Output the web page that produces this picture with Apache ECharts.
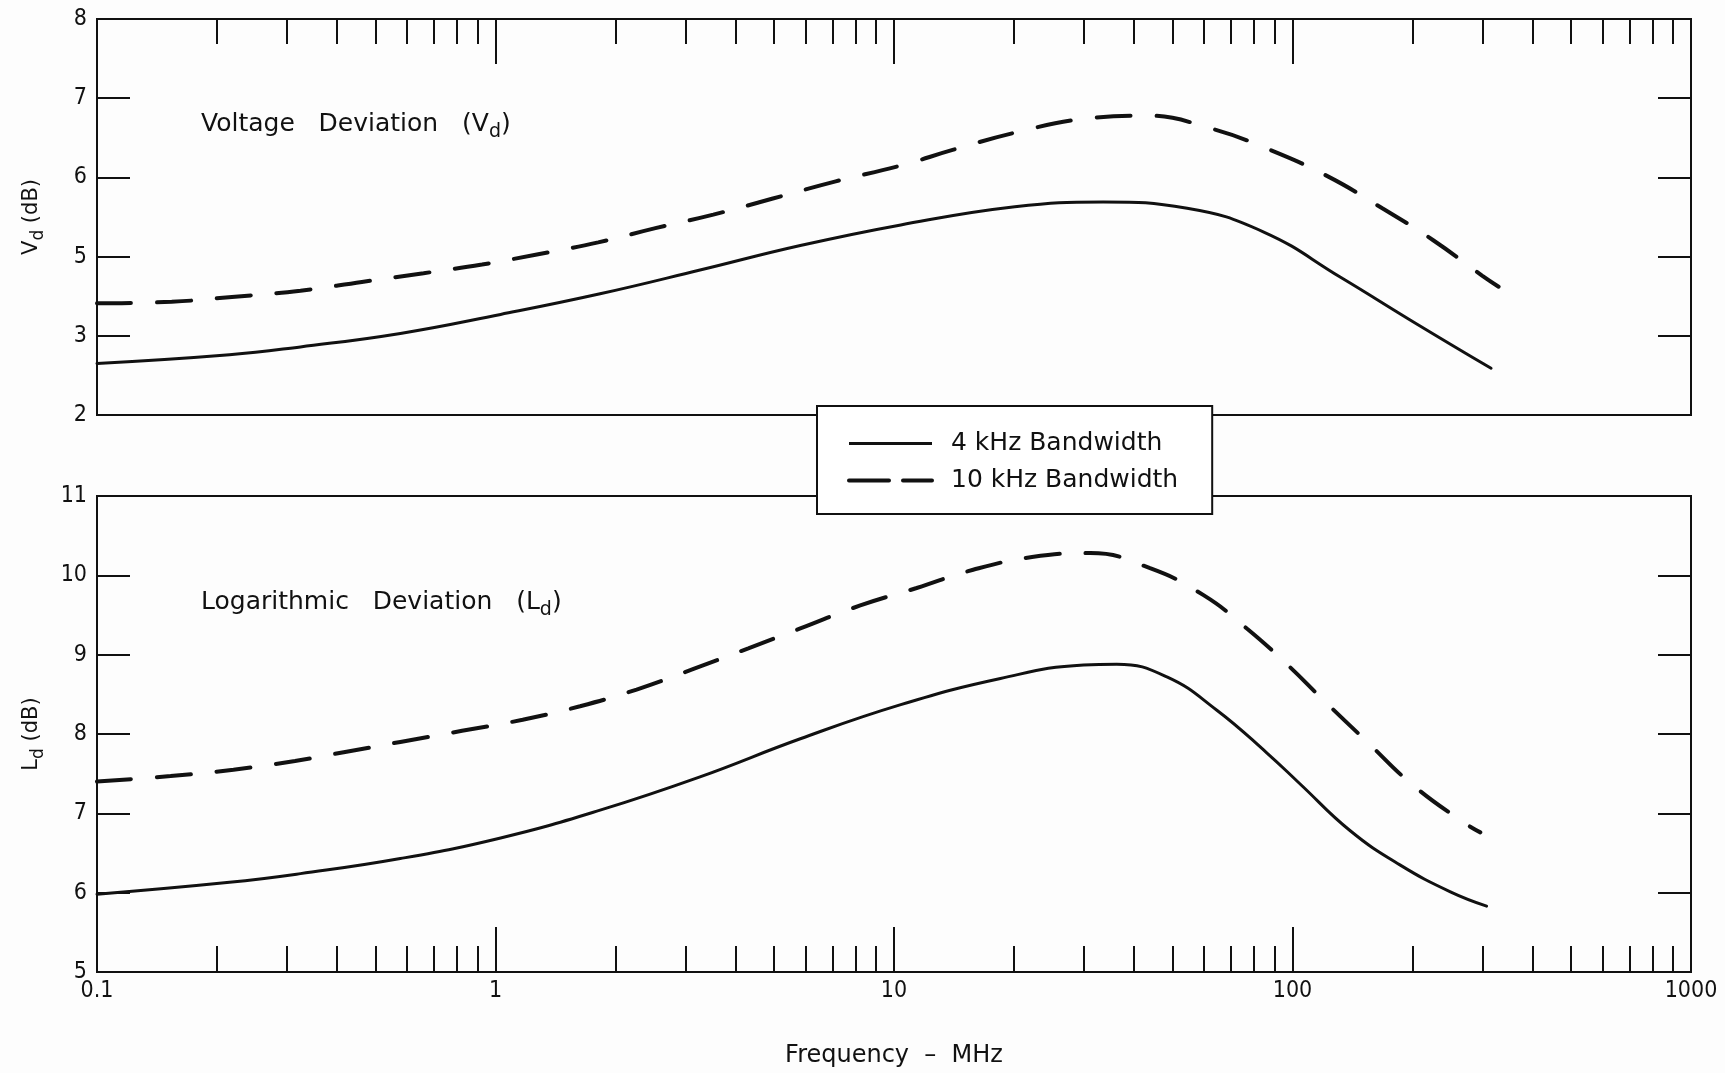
<!DOCTYPE html>
<html>
<head>
<meta charset="utf-8">
<script src="https://cdn.jsdelivr.net/npm/echarts@6/dist/echarts.min.js"></script>
<style>
    html, body { margin: 0; padding: 0; background: #fdfdfd; }
    #chart { width: 1725px; height: 1073px; }
</style>
</head>
<body>
<div id="chart"></div>
<script>
// values: frequency in MHz, deviation in dB
const vd_4k_freq = [0.1, 0.215, 0.324, 0.577, 1.03, 1.83, 3.26, 5.82, 10.4, 20.1, 33.5, 54.4, 84.7, 132, 205, 315];
const vd_4k_db = [3.65, 3.76, 3.86, 4.03, 4.27, 4.53, 4.83, 5.14, 5.40, 5.63, 5.69, 5.61, 5.31, 4.74, 4.15, 3.59];

const vd_10k_freq = [0.1, 0.154, 0.218, 0.324, 0.462, 0.66, 0.925, 1.28, 1.81, 2.52, 3.52, 4.94, 7.14, 10.4, 14.1, 20.3, 30, 43.1, 62.3, 87.6, 123, 168, 225, 299, 329];
const vd_10k_db = [4.41, 4.43, 4.49, 4.57, 4.68, 4.79, 4.90, 5.03, 5.18, 5.36, 5.53, 5.73, 5.95, 6.15, 6.35, 6.57, 6.74, 6.78, 6.62, 6.35, 6.01, 5.61, 5.21, 4.76, 4.62];

const ld_4k_freq = [0.1, 0.215, 0.324, 0.577, 1.03, 1.83, 3.26, 5.82, 10.4, 18.5, 29.9, 36.2, 48.4, 64.6, 86.3, 104.5, 139.6, 186, 249, 307];
const ld_4k_db = [5.98, 6.13, 6.24, 6.43, 6.69, 7.04, 7.46, 7.94, 8.37, 8.70, 8.87, 8.88, 8.72, 8.30, 7.76, 7.37, 6.78, 6.35, 6.01, 5.83];

const ld_10k_freq = [0.1, 0.153, 0.22, 0.314, 0.416, 0.577, 0.824, 1.17, 1.63, 2.26, 3.14, 4.31, 5.82, 8.23, 11.4, 15.8, 22.2, 31.1, 43.9, 59.8, 76.8, 96.8, 120, 154, 199, 266, 296];
const ld_10k_db = [7.40, 7.47, 7.55, 7.66, 7.77, 7.90, 8.04, 8.18, 8.35, 8.56, 8.82, 9.08, 9.33, 9.62, 9.84, 10.07, 10.23, 10.28, 10.09, 9.75, 9.33, 8.88, 8.42, 7.90, 7.37, 6.90, 6.76];

// axis ticks
const minor_ticks = [0.2, 0.3, 0.4, 0.5, 0.6, 0.7, 0.8, 0.9,
    2, 3, 4, 5, 6, 7, 8, 9,
    20, 30, 40, 50, 60, 70, 80, 90,
    200, 300, 400, 500, 600, 700, 800, 900];
const major_ticks = [1, 10, 100];
const freq_labels = [0.1, 1, 10, 100, 1000];
// the Vd scale is printed 2,3,5,6,7,8 on the original (no 4)
const vd_tick_labels = ['2', '3', '5', '6', '7', '8'];

const FONT = '"DejaVu Sans", sans-serif';
const NUM_FONT = '"Liberation Sans Narrow", "DejaVu Sans Condensed", sans-serif';
const INK = '#111';

function sub_rich(size, sub_size, shift) {
    return {
        n: {fontFamily: FONT, fontSize: size, fontWeight: 'normal', color: INK, padding: [0, 0, shift, 0]},
        s: {fontFamily: FONT, fontSize: sub_size, fontWeight: 'normal', color: INK, padding: [shift, 0, 0, 0]},
    };
}

function log_x(grid, position, ticks, len, extra = {}) {
    let ax = {
        type: 'log', logBase: 10, min: 0.1, max: 1000,
        gridIndex: grid, position: position,
        axisLine: {show: false},
        axisTick: {show: true, inside: true, length: len, customValues: ticks,
            lineStyle: {color: INK, width: 2}},
        axisLabel: {show: false},
        splitLine: {show: false},
    };
    for (let key in extra) ax[key] = extra[key];
    return ax;
}

function db_y(grid, position, min, max, extra = {}) {
    let ax = {
        type: 'value', gridIndex: grid, position: position,
        min: min, max: max, interval: 1,
        axisLine: {show: false},
        axisTick: {show: true, inside: true, length: 33, lineStyle: {color: INK, width: 2}},
        axisLabel: {show: false},
        splitLine: {show: false},
    };
    for (let key in extra) ax[key] = extra[key];
    return ax;
}

function curve(name, xi, yi, freq, db, dashed) {
    return {
        name: name, type: 'line', xAxisIndex: xi, yAxisIndex: yi,
        data: freq.map((f, i) => [f, db[i]]),
        symbol: 'none', smooth: 0.45, silent: true,
        itemStyle: {color: INK},
        lineStyle: dashed
            ? {color: INK, width: 4, type: [34, 26], cap: 'round'}
            : {color: INK, width: 3, cap: 'round'},
    };
}

let chart = echarts.init(document.getElementById('chart'), null, {renderer: 'canvas'});

let option = {
    backgroundColor: '#fdfdfd',
    animation: false,
    title: [
        {text: '{n|Voltage   Deviation   (V}{s|d}{n|)}', left: 196, top: 107,
            textStyle: {rich: sub_rich(25, 19, 8)}},
        {text: '{n|Logarithmic   Deviation   (L}{s|d}{n|)}', left: 196, top: 585,
            textStyle: {rich: sub_rich(25, 19, 8)}},
    ],
    legend: {
        orient: 'vertical', left: 817, top: 406,
        padding: [25, 34, 21, 30], itemGap: 12, itemWidth: 83, itemHeight: 20,
        backgroundColor: '#fff', borderColor: INK, borderWidth: 2,
        selectedMode: false,
        itemStyle: {color: 'rgba(0,0,0,0)', borderWidth: 0},
        lineStyle: {color: INK, width: 3, cap: 'butt'},
        textStyle: {fontFamily: FONT, fontSize: 25, color: INK, padding: [0, 0, 0, 14]},
        data: [
            {name: '4 kHz Bandwidth'},
            {name: '10 kHz Bandwidth', lineStyle: {width: 4, type: [40, 14], cap: 'round'}},
        ],
    },
    grid: [
        {left: 97, top: 19, width: 1594, height: 396, show: true,
            borderColor: INK, borderWidth: 2, backgroundColor: 'transparent'},
        {left: 97, top: 496, width: 1594, height: 476, show: true,
            borderColor: INK, borderWidth: 2, backgroundColor: 'transparent'},
    ],
    xAxis: [
        log_x(0, 'top', minor_ticks, 25),
        log_x(0, 'top', major_ticks, 45),
        log_x(1, 'bottom', minor_ticks, 26),
        log_x(1, 'bottom', major_ticks, 45, {
            axisLabel: {show: true, customValues: freq_labels, margin: 8,
                fontFamily: NUM_FONT, fontSize: 23, color: INK,
                formatter: (v) => String(+Number(v).toPrecision(3))},
            name: 'Frequency  –  MHz', nameLocation: 'middle', nameGap: 72,
            nameTextStyle: {fontFamily: FONT, fontSize: 24, color: INK},
        }),
    ],
    yAxis: [
        db_y(0, 'left', 3, 8, {
            axisLabel: {show: true, margin: 10, fontFamily: NUM_FONT, fontSize: 23, color: INK,
                formatter: (v) => vd_tick_labels[Math.round(v) - 3]},
            name: '{n|V}{s|d}{n| (dB)}', nameLocation: 'middle', nameGap: 48, nameRotate: 90,
            nameTextStyle: {rich: sub_rich(21, 17, 7)},
        }),
        db_y(0, 'right', 3, 8),
        db_y(1, 'left', 5, 11, {
            axisLabel: {show: true, margin: 10, fontFamily: NUM_FONT, fontSize: 23, color: INK},
            name: '{n|L}{s|d}{n| (dB)}', nameLocation: 'middle', nameGap: 48, nameRotate: 90,
            nameTextStyle: {rich: sub_rich(21, 17, 7)},
        }),
        db_y(1, 'right', 5, 11),
    ],
    series: [
        curve('4 kHz Bandwidth', 0, 0, vd_4k_freq, vd_4k_db, false),
        curve('10 kHz Bandwidth', 0, 0, vd_10k_freq, vd_10k_db, true),
        curve('4 kHz Bandwidth', 2, 2, ld_4k_freq, ld_4k_db, false),
        curve('10 kHz Bandwidth', 2, 2, ld_10k_freq, ld_10k_db, true),
    ],
};

chart.setOption(option);
</script>
</body>
</html>
